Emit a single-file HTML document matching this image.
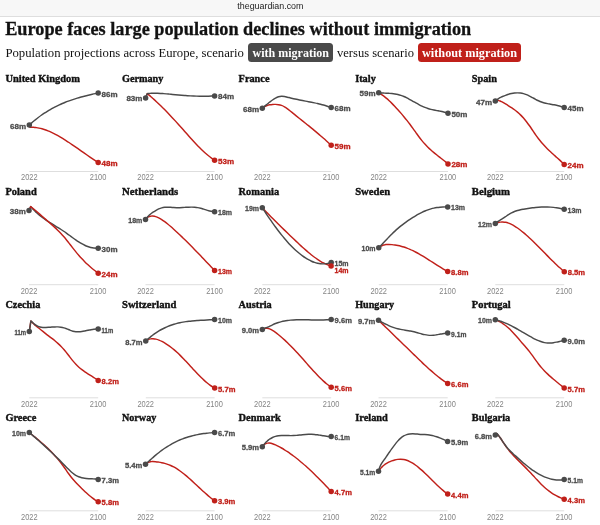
<!DOCTYPE html>
<html><head><meta charset="utf-8"><title>Europe population</title>
<style>
html,body{margin:0;padding:0;background:#fff;}
body{width:600px;height:525px;overflow:hidden;position:relative;font-family:"Liberation Sans",sans-serif;}
svg{position:absolute;left:0;top:0;display:block;will-change:transform;transform:translateZ(0)}
.pt{font-family:"Liberation Serif",serif;font-weight:700;font-size:10.8px;fill:#121212;stroke:#121212;stroke-width:0.4px}
.tk{font-family:"Liberation Sans",sans-serif;font-size:8.5px;fill:#858585}
.lb{font-family:"Liberation Sans",sans-serif;font-size:7.8px;font-weight:700;stroke-width:0.3px}
.lr{font-weight:700}
.h1{font-family:"Liberation Serif",serif;font-weight:700;font-size:18.5px;fill:#121212;stroke:#121212;stroke-width:0.3px}
.sub{font-family:"Liberation Serif",serif;font-size:12.6px;fill:#121212}
.pill{font-family:"Liberation Serif",serif;font-weight:700;font-size:12.4px;fill:#fff}
.url{font-family:"Liberation Sans",sans-serif;font-size:8.9px;fill:#1c1c1c}
</style></head><body>
<svg width="600" height="525" viewBox="0 0 600 525">
<rect x="0" y="0" width="600" height="16" fill="#f7f7f7"/>
<rect x="0" y="16" width="600" height="1" fill="#dedede"/>
<text class="url" x="270.4" y="8.8" text-anchor="middle">theguardian.com</text>
<text class="h1" x="5.2" y="34.5" textLength="466" lengthAdjust="spacingAndGlyphs">Europe faces large population declines without immigration</text>
<text class="sub" x="5.4" y="57" textLength="238.6" lengthAdjust="spacingAndGlyphs">Population projections across Europe, scenario</text>
<rect x="248" y="43" width="85" height="19" rx="3.5" fill="#4a4a4a"/>
<text class="pill" x="252.5" y="57" textLength="76.5" lengthAdjust="spacingAndGlyphs">with migration</text>
<text class="sub" x="337" y="57" textLength="77" lengthAdjust="spacingAndGlyphs">versus scenario</text>
<rect x="418" y="43" width="103" height="19" rx="3.5" fill="#c0201a"/>
<text class="pill" x="422" y="57" textLength="95" lengthAdjust="spacingAndGlyphs">without migration</text>
<text class="pt" x="5.4" y="82.0" textLength="74.5" lengthAdjust="spacingAndGlyphs">United Kingdom</text>
<line x1="29.3" y1="171.5" x2="98.2" y2="171.5" stroke="#dedede" stroke-width="1"/>
<text class="tk" x="21.0" y="180.3" textLength="16.6" lengthAdjust="spacingAndGlyphs">2022</text>
<text class="tk" x="89.8" y="180.3" textLength="16.6" lengthAdjust="spacingAndGlyphs">2100</text>
<path d="M29.30,125.00L30.00,127.25C30.20,127.25 30.80,127.23 31.20,127.24C31.60,127.24 32.00,127.25 32.40,127.26C32.80,127.28 33.20,127.30 33.60,127.33C34.00,127.36 34.40,127.39 34.80,127.43C35.20,127.47 35.30,127.46 36.00,127.57C36.70,127.68 38.00,127.88 39.00,128.09C40.00,128.30 41.00,128.54 42.00,128.82C43.00,129.10 44.00,129.41 45.00,129.75C46.00,130.09 47.00,130.46 48.00,130.86C49.00,131.26 50.00,131.69 51.00,132.14C52.00,132.60 53.00,133.08 54.00,133.58C55.00,134.08 56.00,134.61 57.00,135.15C58.00,135.69 59.00,136.26 60.00,136.84C61.00,137.43 62.00,138.03 63.00,138.64C64.00,139.26 65.00,139.89 66.00,140.53C67.00,141.18 68.00,141.83 69.00,142.50C70.00,143.17 71.00,143.84 72.00,144.53C73.00,145.21 74.00,145.90 75.00,146.60C76.00,147.29 77.00,147.99 78.00,148.70C79.00,149.40 80.00,150.10 81.00,150.81C82.00,151.51 83.00,152.22 84.00,152.92C85.00,153.62 86.00,154.32 87.00,155.01C88.00,155.70 89.00,156.39 90.00,157.07C91.00,157.75 92.00,158.42 93.00,159.08C94.00,159.74 95.13,160.47 96.00,161.02C96.87,161.58 97.83,162.17 98.20,162.40" fill="none" stroke="#c0201a" stroke-width="1.45" stroke-linecap="round" stroke-linejoin="round"/>
<path d="M29.30,125.00C29.50,124.82 30.10,124.27 30.50,123.91C30.90,123.55 31.30,123.20 31.70,122.85C32.10,122.50 32.50,122.15 32.90,121.81C33.30,121.47 33.70,121.13 34.10,120.80C34.50,120.47 34.60,120.37 35.30,119.82C36.00,119.26 37.30,118.22 38.30,117.47C39.30,116.71 40.30,115.98 41.30,115.27C42.30,114.56 43.30,113.87 44.30,113.21C45.30,112.55 46.30,111.91 47.30,111.30C48.30,110.68 49.30,110.08 50.30,109.51C51.30,108.93 52.30,108.38 53.30,107.85C54.30,107.31 55.30,106.80 56.30,106.30C57.30,105.80 58.30,105.32 59.30,104.86C60.30,104.40 61.30,103.96 62.30,103.53C63.30,103.10 64.30,102.69 65.30,102.29C66.30,101.89 67.30,101.51 68.30,101.14C69.30,100.77 70.30,100.41 71.30,100.07C72.30,99.73 73.30,99.40 74.30,99.08C75.30,98.76 76.30,98.45 77.30,98.15C78.30,97.85 79.30,97.56 80.30,97.28C81.30,97.00 82.30,96.74 83.30,96.47C84.30,96.21 85.30,95.96 86.30,95.71C87.30,95.46 88.30,95.22 89.30,94.98C90.30,94.75 91.30,94.52 92.30,94.29C93.30,94.06 94.32,93.84 95.30,93.63C96.28,93.41 97.72,93.10 98.20,93.00" fill="none" stroke="#4a4a4a" stroke-width="1.45" stroke-linecap="round" stroke-linejoin="round"/>
<circle cx="98.20" cy="162.40" r="2.75" fill="#c0201a"/>
<circle cx="98.20" cy="93.00" r="2.75" fill="#4a4a4a"/>
<circle cx="29.30" cy="125.00" r="2.75" fill="#4a4a4a"/>
<text class="lb" x="10.1" y="128.5" textLength="16.0" lengthAdjust="spacingAndGlyphs" fill="#4c4c4c" stroke="#4c4c4c">68m</text>
<text class="lb" x="101.6" y="96.5" textLength="16.0" lengthAdjust="spacingAndGlyphs" fill="#4c4c4c" stroke="#4c4c4c">86m</text>
<text class="lb lr" x="101.6" y="165.9" textLength="16.0" lengthAdjust="spacingAndGlyphs" fill="#c0201a" stroke="#c0201a">48m</text>
<text class="pt" x="122.0" y="82.0" textLength="41.4" lengthAdjust="spacingAndGlyphs">Germany</text>
<line x1="145.6" y1="171.5" x2="214.6" y2="171.5" stroke="#dedede" stroke-width="1"/>
<text class="tk" x="137.3" y="180.3" textLength="16.6" lengthAdjust="spacingAndGlyphs">2022</text>
<text class="tk" x="206.2" y="180.3" textLength="16.6" lengthAdjust="spacingAndGlyphs">2100</text>
<path d="M145.60,97.90L147.30,93.60C147.50,93.77 148.10,94.28 148.50,94.62C148.90,94.96 149.30,95.30 149.70,95.64C150.10,95.99 150.50,96.34 150.90,96.69C151.30,97.04 151.70,97.39 152.10,97.75C152.50,98.10 152.90,98.46 153.30,98.82C153.70,99.18 153.80,99.27 154.50,99.91C155.20,100.56 156.50,101.76 157.50,102.70C158.50,103.65 159.50,104.61 160.50,105.58C161.50,106.56 162.50,107.55 163.50,108.55C164.50,109.55 165.50,110.56 166.50,111.59C167.50,112.61 168.50,113.65 169.50,114.70C170.50,115.75 171.50,116.81 172.50,117.88C173.50,118.95 174.50,120.03 175.50,121.12C176.50,122.21 177.50,123.31 178.50,124.42C179.50,125.53 180.50,126.65 181.50,127.77C182.50,128.89 183.50,130.03 184.50,131.16C185.50,132.29 186.50,133.42 187.50,134.55C188.50,135.67 189.50,136.80 190.50,137.91C191.50,139.03 192.50,140.13 193.50,141.22C194.50,142.31 195.50,143.39 196.50,144.44C197.50,145.49 198.50,146.53 199.50,147.54C200.50,148.55 201.50,149.53 202.50,150.49C203.50,151.44 204.50,152.37 205.50,153.25C206.50,154.14 207.50,154.99 208.50,155.80C209.50,156.61 210.48,157.38 211.50,158.11C212.52,158.84 214.08,159.85 214.60,160.20" fill="none" stroke="#c0201a" stroke-width="1.45" stroke-linecap="round" stroke-linejoin="round"/>
<path d="M145.60,97.90L147.30,93.60C147.50,93.58 148.10,93.52 148.50,93.48C148.90,93.45 149.30,93.42 149.70,93.39C150.10,93.37 150.50,93.34 150.90,93.32C151.30,93.30 151.70,93.29 152.10,93.28C152.50,93.26 152.90,93.25 153.30,93.25C153.70,93.24 153.80,93.23 154.50,93.24C155.20,93.25 156.50,93.26 157.50,93.29C158.50,93.32 159.50,93.36 160.50,93.42C161.50,93.48 162.50,93.55 163.50,93.62C164.50,93.70 165.50,93.78 166.50,93.87C167.50,93.95 168.50,94.05 169.50,94.14C170.50,94.23 171.50,94.32 172.50,94.41C173.50,94.51 174.50,94.60 175.50,94.69C176.50,94.78 177.50,94.87 178.50,94.95C179.50,95.04 180.50,95.13 181.50,95.21C182.50,95.29 183.50,95.37 184.50,95.45C185.50,95.52 186.50,95.60 187.50,95.66C188.50,95.73 189.50,95.80 190.50,95.86C191.50,95.92 192.50,95.97 193.50,96.02C194.50,96.07 195.50,96.11 196.50,96.14C197.50,96.18 198.50,96.21 199.50,96.23C200.50,96.25 201.50,96.27 202.50,96.27C203.50,96.28 204.50,96.28 205.50,96.27C206.50,96.25 207.50,96.24 208.50,96.21C209.50,96.18 210.48,96.14 211.50,96.09C212.52,96.04 214.08,95.93 214.60,95.90" fill="none" stroke="#4a4a4a" stroke-width="1.45" stroke-linecap="round" stroke-linejoin="round"/>
<circle cx="214.60" cy="160.20" r="2.75" fill="#c0201a"/>
<circle cx="214.60" cy="95.90" r="2.75" fill="#4a4a4a"/>
<circle cx="145.60" cy="97.90" r="2.75" fill="#4a4a4a"/>
<text class="lb" x="126.4" y="101.4" textLength="16.0" lengthAdjust="spacingAndGlyphs" fill="#4c4c4c" stroke="#4c4c4c">83m</text>
<text class="lb" x="218.0" y="99.4" textLength="16.0" lengthAdjust="spacingAndGlyphs" fill="#4c4c4c" stroke="#4c4c4c">84m</text>
<text class="lb lr" x="218.0" y="163.7" textLength="16.0" lengthAdjust="spacingAndGlyphs" fill="#c0201a" stroke="#c0201a">53m</text>
<text class="pt" x="238.6" y="82.0" textLength="30.9" lengthAdjust="spacingAndGlyphs">France</text>
<line x1="262.3" y1="171.5" x2="331.2" y2="171.5" stroke="#dedede" stroke-width="1"/>
<text class="tk" x="254.0" y="180.3" textLength="16.6" lengthAdjust="spacingAndGlyphs">2022</text>
<text class="tk" x="322.8" y="180.3" textLength="16.6" lengthAdjust="spacingAndGlyphs">2100</text>
<path d="M262.30,108.20C262.50,108.05 263.10,107.58 263.50,107.31C263.90,107.04 264.30,106.80 264.70,106.57C265.10,106.35 265.50,106.15 265.90,105.97C266.30,105.79 266.70,105.63 267.10,105.48C267.50,105.34 267.90,105.22 268.30,105.11C268.70,105.00 268.80,104.93 269.50,104.82C270.20,104.71 271.50,104.52 272.50,104.45C273.50,104.37 274.50,104.35 275.50,104.39C276.50,104.43 277.50,104.50 278.50,104.67C279.50,104.84 280.50,105.07 281.50,105.42C282.50,105.77 283.50,106.22 284.50,106.78C285.50,107.34 286.50,108.06 287.50,108.80C288.50,109.53 289.50,110.38 290.50,111.20C291.50,112.01 292.50,112.85 293.50,113.66C294.50,114.48 295.50,115.28 296.50,116.08C297.50,116.88 298.50,117.67 299.50,118.46C300.50,119.25 301.50,120.04 302.50,120.84C303.50,121.63 304.50,122.43 305.50,123.23C306.50,124.03 307.50,124.83 308.50,125.65C309.50,126.46 310.50,127.27 311.50,128.09C312.50,128.92 313.50,129.74 314.50,130.58C315.50,131.41 316.50,132.26 317.50,133.11C318.50,133.96 319.50,134.81 320.50,135.68C321.50,136.54 322.50,137.42 323.50,138.30C324.50,139.18 325.50,140.08 326.50,140.98C327.50,141.88 328.72,143.00 329.50,143.72C330.28,144.44 330.92,145.04 331.20,145.30" fill="none" stroke="#c0201a" stroke-width="1.45" stroke-linecap="round" stroke-linejoin="round"/>
<path d="M262.30,108.20C262.50,108.03 263.10,107.51 263.50,107.18C263.90,106.84 264.30,106.50 264.70,106.17C265.10,105.84 265.50,105.51 265.90,105.18C266.30,104.85 266.70,104.52 267.10,104.19C267.50,103.87 267.90,103.54 268.30,103.22C268.70,102.90 268.80,102.80 269.50,102.27C270.20,101.74 271.50,100.73 272.50,100.03C273.50,99.34 274.50,98.67 275.50,98.12C276.50,97.57 277.50,97.06 278.50,96.74C279.50,96.41 280.50,96.22 281.50,96.17C282.50,96.12 283.50,96.28 284.50,96.45C285.50,96.62 286.50,96.93 287.50,97.18C288.50,97.43 289.50,97.71 290.50,97.96C291.50,98.20 292.50,98.44 293.50,98.67C294.50,98.89 295.50,99.11 296.50,99.32C297.50,99.54 298.50,99.74 299.50,99.94C300.50,100.14 301.50,100.34 302.50,100.53C303.50,100.72 304.50,100.91 305.50,101.10C306.50,101.30 307.50,101.48 308.50,101.68C309.50,101.87 310.50,102.06 311.50,102.26C312.50,102.46 313.50,102.66 314.50,102.87C315.50,103.08 316.50,103.29 317.50,103.52C318.50,103.75 319.50,103.98 320.50,104.24C321.50,104.49 322.50,104.75 323.50,105.03C324.50,105.32 325.50,105.61 326.50,105.94C327.50,106.26 328.72,106.68 329.50,106.96C330.28,107.24 330.92,107.49 331.20,107.60" fill="none" stroke="#4a4a4a" stroke-width="1.45" stroke-linecap="round" stroke-linejoin="round"/>
<circle cx="331.20" cy="145.30" r="2.75" fill="#c0201a"/>
<circle cx="331.20" cy="107.60" r="2.75" fill="#4a4a4a"/>
<circle cx="262.30" cy="108.20" r="2.75" fill="#4a4a4a"/>
<text class="lb" x="243.1" y="111.7" textLength="16.0" lengthAdjust="spacingAndGlyphs" fill="#4c4c4c" stroke="#4c4c4c">68m</text>
<text class="lb" x="334.6" y="111.1" textLength="16.0" lengthAdjust="spacingAndGlyphs" fill="#4c4c4c" stroke="#4c4c4c">68m</text>
<text class="lb lr" x="334.6" y="148.8" textLength="16.0" lengthAdjust="spacingAndGlyphs" fill="#c0201a" stroke="#c0201a">59m</text>
<text class="pt" x="355.2" y="82.0" textLength="20.6" lengthAdjust="spacingAndGlyphs">Italy</text>
<line x1="378.7" y1="171.5" x2="448.0" y2="171.5" stroke="#dedede" stroke-width="1"/>
<text class="tk" x="370.4" y="180.3" textLength="16.6" lengthAdjust="spacingAndGlyphs">2022</text>
<text class="tk" x="439.6" y="180.3" textLength="16.6" lengthAdjust="spacingAndGlyphs">2100</text>
<path d="M378.70,92.70C378.90,92.82 379.50,93.17 379.90,93.42C380.30,93.67 380.70,93.93 381.10,94.20C381.50,94.47 381.90,94.75 382.30,95.04C382.70,95.32 383.10,95.62 383.50,95.92C383.90,96.23 384.30,96.54 384.70,96.86C385.10,97.18 385.20,97.24 385.90,97.84C386.60,98.45 387.90,99.57 388.90,100.49C389.90,101.41 390.90,102.38 391.90,103.38C392.90,104.38 393.90,105.42 394.90,106.48C395.90,107.53 396.90,108.63 397.90,109.74C398.90,110.85 399.90,111.98 400.90,113.14C401.90,114.29 402.90,115.47 403.90,116.68C404.90,117.89 405.90,119.12 406.90,120.39C407.90,121.65 408.90,122.94 409.90,124.27C410.90,125.59 411.90,126.95 412.90,128.33C413.90,129.71 414.90,131.15 415.90,132.56C416.90,133.96 417.90,135.40 418.90,136.74C419.90,138.08 420.90,139.39 421.90,140.61C422.90,141.83 423.90,142.97 424.90,144.06C425.90,145.16 426.90,146.18 427.90,147.17C428.90,148.15 429.90,149.08 430.90,149.98C431.90,150.88 432.90,151.73 433.90,152.57C434.90,153.41 435.90,154.21 436.90,155.01C437.90,155.82 438.90,156.59 439.90,157.38C440.90,158.16 441.90,158.93 442.90,159.73C443.90,160.52 445.05,161.44 445.90,162.14C446.75,162.83 447.65,163.61 448.00,163.90" fill="none" stroke="#c0201a" stroke-width="1.45" stroke-linecap="round" stroke-linejoin="round"/>
<path d="M378.70,92.70C378.90,92.72 379.50,92.78 379.90,92.82C380.30,92.86 380.70,92.89 381.10,92.92C381.50,92.95 381.90,92.97 382.30,93.00C382.70,93.02 383.10,93.04 383.50,93.06C383.90,93.09 384.30,93.11 384.70,93.12C385.10,93.14 385.20,93.15 385.90,93.18C386.60,93.22 387.90,93.27 388.90,93.33C389.90,93.40 390.90,93.46 391.90,93.56C392.90,93.66 393.90,93.77 394.90,93.92C395.90,94.08 396.90,94.26 397.90,94.49C398.90,94.73 399.90,95.01 400.90,95.34C401.90,95.68 402.90,96.08 403.90,96.52C404.90,96.95 405.90,97.45 406.90,97.96C407.90,98.47 408.90,99.03 409.90,99.58C410.90,100.14 411.90,100.72 412.90,101.28C413.90,101.84 414.90,102.42 415.90,102.97C416.90,103.52 417.90,104.06 418.90,104.58C419.90,105.09 420.90,105.60 421.90,106.07C422.90,106.53 423.90,106.98 424.90,107.38C425.90,107.78 426.90,108.15 427.90,108.48C428.90,108.80 429.90,109.08 430.90,109.33C431.90,109.59 432.90,109.80 433.90,110.01C434.90,110.22 435.90,110.41 436.90,110.60C437.90,110.79 438.90,110.96 439.90,111.16C440.90,111.36 441.90,111.55 442.90,111.78C443.90,112.02 445.05,112.31 445.90,112.54C446.75,112.78 447.65,113.09 448.00,113.20" fill="none" stroke="#4a4a4a" stroke-width="1.45" stroke-linecap="round" stroke-linejoin="round"/>
<circle cx="448.00" cy="163.90" r="2.75" fill="#c0201a"/>
<circle cx="448.00" cy="113.20" r="2.75" fill="#4a4a4a"/>
<circle cx="378.70" cy="92.70" r="2.75" fill="#4a4a4a"/>
<text class="lb" x="359.5" y="96.2" textLength="16.0" lengthAdjust="spacingAndGlyphs" fill="#4c4c4c" stroke="#4c4c4c">59m</text>
<text class="lb" x="451.4" y="116.7" textLength="16.0" lengthAdjust="spacingAndGlyphs" fill="#4c4c4c" stroke="#4c4c4c">50m</text>
<text class="lb lr" x="451.4" y="167.4" textLength="16.0" lengthAdjust="spacingAndGlyphs" fill="#c0201a" stroke="#c0201a">28m</text>
<text class="pt" x="471.8" y="82.0" textLength="25.1" lengthAdjust="spacingAndGlyphs">Spain</text>
<line x1="495.3" y1="171.5" x2="564.2" y2="171.5" stroke="#dedede" stroke-width="1"/>
<text class="tk" x="487.0" y="180.3" textLength="16.6" lengthAdjust="spacingAndGlyphs">2022</text>
<text class="tk" x="555.8" y="180.3" textLength="16.6" lengthAdjust="spacingAndGlyphs">2100</text>
<path d="M495.30,101.00C495.50,100.90 496.10,100.49 496.50,100.38C496.90,100.26 497.30,100.27 497.70,100.30C498.10,100.34 498.50,100.46 498.90,100.58C499.30,100.70 499.70,100.86 500.10,101.03C500.50,101.19 500.90,101.37 501.30,101.56C501.70,101.76 501.80,101.78 502.50,102.18C503.20,102.57 504.50,103.33 505.50,103.93C506.50,104.53 507.50,105.15 508.50,105.78C509.50,106.41 510.50,107.03 511.50,107.70C512.50,108.37 513.50,109.04 514.50,109.78C515.50,110.52 516.50,111.29 517.50,112.14C518.50,112.98 519.50,113.87 520.50,114.86C521.50,115.84 522.50,116.91 523.50,118.05C524.50,119.18 525.50,120.41 526.50,121.69C527.50,122.98 528.50,124.35 529.50,125.77C530.50,127.19 531.50,128.72 532.50,130.21C533.50,131.69 534.50,133.25 535.50,134.68C536.50,136.12 537.50,137.50 538.50,138.81C539.50,140.11 540.50,141.33 541.50,142.50C542.50,143.67 543.50,144.77 544.50,145.84C545.50,146.90 546.50,147.91 547.50,148.90C548.50,149.89 549.50,150.83 550.50,151.76C551.50,152.69 552.50,153.59 553.50,154.49C554.50,155.40 555.50,156.28 556.50,157.18C557.50,158.08 558.50,158.98 559.50,159.90C560.50,160.82 561.72,161.97 562.50,162.72C563.28,163.47 563.92,164.12 564.20,164.40" fill="none" stroke="#c0201a" stroke-width="1.45" stroke-linecap="round" stroke-linejoin="round"/>
<path d="M495.30,101.00C495.50,100.83 496.10,100.29 496.50,99.98C496.90,99.66 497.30,99.37 497.70,99.09C498.10,98.81 498.50,98.56 498.90,98.32C499.30,98.08 499.70,97.86 500.10,97.65C500.50,97.43 500.90,97.24 501.30,97.05C501.70,96.86 501.80,96.80 502.50,96.51C503.20,96.22 504.50,95.68 505.50,95.31C506.50,94.95 507.50,94.61 508.50,94.32C509.50,94.03 510.50,93.77 511.50,93.56C512.50,93.35 513.50,93.18 514.50,93.07C515.50,92.95 516.50,92.88 517.50,92.88C518.50,92.88 519.50,92.93 520.50,93.05C521.50,93.18 522.50,93.37 523.50,93.63C524.50,93.90 525.50,94.26 526.50,94.66C527.50,95.06 528.50,95.55 529.50,96.05C530.50,96.54 531.50,97.10 532.50,97.64C533.50,98.18 534.50,98.75 535.50,99.27C536.50,99.80 537.50,100.32 538.50,100.78C539.50,101.24 540.50,101.65 541.50,102.01C542.50,102.37 543.50,102.66 544.50,102.93C545.50,103.20 546.50,103.41 547.50,103.62C548.50,103.83 549.50,104.00 550.50,104.18C551.50,104.36 552.50,104.51 553.50,104.69C554.50,104.87 555.50,105.04 556.50,105.25C557.50,105.46 558.50,105.67 559.50,105.94C560.50,106.20 561.72,106.59 562.50,106.85C563.28,107.11 563.92,107.39 564.20,107.50" fill="none" stroke="#4a4a4a" stroke-width="1.45" stroke-linecap="round" stroke-linejoin="round"/>
<circle cx="564.20" cy="164.40" r="2.75" fill="#c0201a"/>
<circle cx="564.20" cy="107.50" r="2.75" fill="#4a4a4a"/>
<circle cx="495.30" cy="101.00" r="2.75" fill="#4a4a4a"/>
<text class="lb" x="476.1" y="104.5" textLength="16.0" lengthAdjust="spacingAndGlyphs" fill="#4c4c4c" stroke="#4c4c4c">47m</text>
<text class="lb" x="567.6" y="111.0" textLength="16.0" lengthAdjust="spacingAndGlyphs" fill="#4c4c4c" stroke="#4c4c4c">45m</text>
<text class="lb lr" x="567.6" y="167.9" textLength="16.0" lengthAdjust="spacingAndGlyphs" fill="#c0201a" stroke="#c0201a">24m</text>
<text class="pt" x="5.4" y="195.2" textLength="31.3" lengthAdjust="spacingAndGlyphs">Poland</text>
<line x1="29.0" y1="284.7" x2="98.2" y2="284.7" stroke="#dedede" stroke-width="1"/>
<text class="tk" x="20.7" y="293.5" textLength="16.6" lengthAdjust="spacingAndGlyphs">2022</text>
<text class="tk" x="89.8" y="293.5" textLength="16.6" lengthAdjust="spacingAndGlyphs">2100</text>
<path d="M29.00,210.60L30.70,206.60C30.90,206.83 31.50,207.51 31.90,207.95C32.30,208.39 32.70,208.82 33.10,209.24C33.50,209.67 33.90,210.08 34.30,210.48C34.70,210.88 35.10,211.27 35.50,211.65C35.90,212.04 36.00,212.16 36.70,212.78C37.40,213.40 38.70,214.56 39.70,215.38C40.70,216.21 41.70,216.98 42.70,217.73C43.70,218.47 44.70,219.18 45.70,219.87C46.70,220.55 47.70,221.21 48.70,221.85C49.70,222.49 50.70,223.11 51.70,223.73C52.70,224.35 53.70,224.95 54.70,225.56C55.70,226.17 56.70,226.76 57.70,227.38C58.70,228.00 59.70,228.61 60.70,229.25C61.70,229.89 62.70,230.55 63.70,231.23C64.70,231.91 65.70,232.62 66.70,233.33C67.70,234.05 68.70,234.79 69.70,235.53C70.70,236.26 71.70,237.01 72.70,237.74C73.70,238.47 74.70,239.20 75.70,239.89C76.70,240.59 77.70,241.28 78.70,241.91C79.70,242.55 80.70,243.17 81.70,243.73C82.70,244.29 83.70,244.81 84.70,245.28C85.70,245.75 86.70,246.17 87.70,246.53C88.70,246.90 89.70,247.21 90.70,247.46C91.70,247.71 92.70,247.91 93.70,248.04C94.70,248.17 95.95,248.22 96.70,248.25C97.45,248.27 97.95,248.21 98.20,248.20" fill="none" stroke="#4a4a4a" stroke-width="1.45" stroke-linecap="round" stroke-linejoin="round"/>
<path d="M29.00,210.60L30.70,206.60C30.90,206.76 31.50,207.24 31.90,207.56C32.30,207.89 32.70,208.21 33.10,208.54C33.50,208.87 33.90,209.20 34.30,209.53C34.70,209.86 35.10,210.20 35.50,210.53C35.90,210.87 36.00,210.95 36.70,211.55C37.40,212.14 38.70,213.25 39.70,214.12C40.70,214.98 41.70,215.85 42.70,216.72C43.70,217.60 44.70,218.48 45.70,219.36C46.70,220.23 47.70,221.11 48.70,221.99C49.70,222.87 50.70,223.75 51.70,224.64C52.70,225.54 53.70,226.44 54.70,227.37C55.70,228.30 56.70,229.24 57.70,230.23C58.70,231.21 59.70,232.22 60.70,233.28C61.70,234.34 62.70,235.44 63.70,236.59C64.70,237.75 65.70,238.97 66.70,240.20C67.70,241.44 68.70,242.73 69.70,244.01C70.70,245.29 71.70,246.59 72.70,247.86C73.70,249.13 74.70,250.39 75.70,251.61C76.70,252.83 77.70,254.03 78.70,255.18C79.70,256.34 80.70,257.46 81.70,258.54C82.70,259.62 83.70,260.66 84.70,261.66C85.70,262.67 86.70,263.63 87.70,264.56C88.70,265.50 89.70,266.39 90.70,267.26C91.70,268.13 92.70,268.96 93.70,269.77C94.70,270.57 95.95,271.53 96.70,272.10C97.45,272.67 97.95,273.02 98.20,273.20" fill="none" stroke="#c0201a" stroke-width="1.45" stroke-linecap="round" stroke-linejoin="round"/>
<circle cx="98.20" cy="273.20" r="2.75" fill="#c0201a"/>
<circle cx="98.20" cy="248.20" r="2.75" fill="#4a4a4a"/>
<circle cx="29.00" cy="210.60" r="2.75" fill="#4a4a4a"/>
<text class="lb" x="9.8" y="214.1" textLength="16.0" lengthAdjust="spacingAndGlyphs" fill="#4c4c4c" stroke="#4c4c4c">38m</text>
<text class="lb" x="101.6" y="251.7" textLength="16.0" lengthAdjust="spacingAndGlyphs" fill="#4c4c4c" stroke="#4c4c4c">30m</text>
<text class="lb lr" x="101.6" y="276.7" textLength="16.0" lengthAdjust="spacingAndGlyphs" fill="#c0201a" stroke="#c0201a">24m</text>
<text class="pt" x="122.0" y="195.2" textLength="56.2" lengthAdjust="spacingAndGlyphs">Netherlands</text>
<line x1="145.5" y1="284.7" x2="214.6" y2="284.7" stroke="#dedede" stroke-width="1"/>
<text class="tk" x="137.2" y="293.5" textLength="16.6" lengthAdjust="spacingAndGlyphs">2022</text>
<text class="tk" x="206.2" y="293.5" textLength="16.6" lengthAdjust="spacingAndGlyphs">2100</text>
<path d="M145.50,219.50C145.70,219.26 146.30,218.46 146.70,218.05C147.10,217.65 147.50,217.35 147.90,217.09C148.30,216.83 148.70,216.65 149.10,216.50C149.50,216.35 149.90,216.26 150.30,216.18C150.70,216.10 151.10,216.06 151.50,216.04C151.90,216.01 152.00,215.94 152.70,216.04C153.40,216.14 154.70,216.33 155.70,216.63C156.70,216.94 157.70,217.37 158.70,217.86C159.70,218.35 160.70,218.93 161.70,219.56C162.70,220.19 163.70,220.90 164.70,221.64C165.70,222.38 166.70,223.19 167.70,224.01C168.70,224.83 169.70,225.70 170.70,226.58C171.70,227.45 172.70,228.35 173.70,229.25C174.70,230.16 175.70,231.08 176.70,232.00C177.70,232.93 178.70,233.87 179.70,234.81C180.70,235.76 181.70,236.72 182.70,237.68C183.70,238.65 184.70,239.62 185.70,240.60C186.70,241.59 187.70,242.58 188.70,243.57C189.70,244.57 190.70,245.58 191.70,246.59C192.70,247.60 193.70,248.62 194.70,249.65C195.70,250.67 196.70,251.70 197.70,252.74C198.70,253.78 199.70,254.82 200.70,255.86C201.70,256.91 202.70,257.96 203.70,259.01C204.70,260.06 205.70,261.12 206.70,262.18C207.70,263.24 208.70,264.30 209.70,265.37C210.70,266.43 211.88,267.70 212.70,268.57C213.52,269.44 214.28,270.26 214.60,270.60" fill="none" stroke="#c0201a" stroke-width="1.45" stroke-linecap="round" stroke-linejoin="round"/>
<path d="M145.50,219.50C145.70,219.23 146.30,218.41 146.70,217.91C147.10,217.41 147.50,216.96 147.90,216.52C148.30,216.09 148.70,215.69 149.10,215.31C149.50,214.93 149.90,214.58 150.30,214.24C150.70,213.91 151.10,213.59 151.50,213.29C151.90,212.99 152.00,212.90 152.70,212.43C153.40,211.97 154.70,211.10 155.70,210.52C156.70,209.93 157.70,209.38 158.70,208.93C159.70,208.48 160.70,208.10 161.70,207.83C162.70,207.56 163.70,207.41 164.70,207.30C165.70,207.20 166.70,207.19 167.70,207.20C168.70,207.20 169.70,207.28 170.70,207.34C171.70,207.40 172.70,207.51 173.70,207.57C174.70,207.63 175.70,207.68 176.70,207.70C177.70,207.71 178.70,207.69 179.70,207.66C180.70,207.63 181.70,207.57 182.70,207.51C183.70,207.46 184.70,207.39 185.70,207.33C186.70,207.28 187.70,207.21 188.70,207.18C189.70,207.15 190.70,207.12 191.70,207.14C192.70,207.15 193.70,207.18 194.70,207.26C195.70,207.35 196.70,207.46 197.70,207.64C198.70,207.81 199.70,208.05 200.70,208.31C201.70,208.56 202.70,208.88 203.70,209.18C204.70,209.48 205.70,209.81 206.70,210.11C207.70,210.40 208.70,210.71 209.70,210.96C210.70,211.20 211.88,211.44 212.70,211.58C213.52,211.72 214.28,211.76 214.60,211.80" fill="none" stroke="#4a4a4a" stroke-width="1.45" stroke-linecap="round" stroke-linejoin="round"/>
<circle cx="214.60" cy="270.60" r="2.75" fill="#c0201a"/>
<circle cx="214.60" cy="211.80" r="2.75" fill="#4a4a4a"/>
<circle cx="145.50" cy="219.50" r="2.75" fill="#4a4a4a"/>
<text class="lb" x="128.3" y="223.0" textLength="14.0" lengthAdjust="spacingAndGlyphs" fill="#4c4c4c" stroke="#4c4c4c">18m</text>
<text class="lb" x="218.0" y="215.3" textLength="14.0" lengthAdjust="spacingAndGlyphs" fill="#4c4c4c" stroke="#4c4c4c">18m</text>
<text class="lb lr" x="218.0" y="274.1" textLength="14.0" lengthAdjust="spacingAndGlyphs" fill="#c0201a" stroke="#c0201a">13m</text>
<text class="pt" x="238.6" y="195.2" textLength="40.5" lengthAdjust="spacingAndGlyphs">Romania</text>
<line x1="262.3" y1="284.7" x2="331.2" y2="284.7" stroke="#dedede" stroke-width="1"/>
<text class="tk" x="254.0" y="293.5" textLength="16.6" lengthAdjust="spacingAndGlyphs">2022</text>
<text class="tk" x="322.8" y="293.5" textLength="16.6" lengthAdjust="spacingAndGlyphs">2100</text>
<path d="M262.30,207.80C262.50,208.01 263.10,208.64 263.50,209.05C263.90,209.47 264.30,209.88 264.70,210.30C265.10,210.71 265.50,211.13 265.90,211.54C266.30,211.95 266.70,212.36 267.10,212.77C267.50,213.19 267.90,213.59 268.30,214.00C268.70,214.41 268.80,214.52 269.50,215.23C270.20,215.94 271.50,217.26 272.50,218.26C273.50,219.27 274.50,220.27 275.50,221.27C276.50,222.27 277.50,223.26 278.50,224.25C279.50,225.24 280.50,226.22 281.50,227.20C282.50,228.18 283.50,229.15 284.50,230.12C285.50,231.09 286.50,232.06 287.50,233.02C288.50,233.99 289.50,234.95 290.50,235.90C291.50,236.86 292.50,237.81 293.50,238.76C294.50,239.71 295.50,240.66 296.50,241.60C297.50,242.54 298.50,243.49 299.50,244.42C300.50,245.35 301.50,246.28 302.50,247.19C303.50,248.10 304.50,249.01 305.50,249.89C306.50,250.77 307.50,251.65 308.50,252.49C309.50,253.33 310.50,254.16 311.50,254.96C312.50,255.75 313.50,256.53 314.50,257.27C315.50,258.01 316.50,258.72 317.50,259.39C318.50,260.06 319.50,260.70 320.50,261.30C321.50,261.89 322.50,262.45 323.50,262.96C324.50,263.47 325.50,263.94 326.50,264.36C327.50,264.77 328.73,265.19 329.50,265.45C330.27,265.71 330.83,265.82 331.10,265.90" fill="none" stroke="#c0201a" stroke-width="1.45" stroke-linecap="round" stroke-linejoin="round"/>
<path d="M262.30,207.80C262.50,208.11 263.10,209.02 263.50,209.63C263.90,210.24 264.30,210.85 264.70,211.45C265.10,212.06 265.50,212.66 265.90,213.26C266.30,213.86 266.70,214.46 267.10,215.05C267.50,215.65 267.90,216.24 268.30,216.83C268.70,217.42 268.80,217.58 269.50,218.58C270.20,219.59 271.50,221.48 272.50,222.88C273.50,224.29 274.50,225.68 275.50,227.03C276.50,228.39 277.50,229.72 278.50,231.02C279.50,232.32 280.50,233.60 281.50,234.84C282.50,236.08 283.50,237.29 284.50,238.47C285.50,239.65 286.50,240.80 287.50,241.91C288.50,243.03 289.50,244.11 290.50,245.15C291.50,246.20 292.50,247.21 293.50,248.18C294.50,249.15 295.50,250.09 296.50,250.98C297.50,251.88 298.50,252.74 299.50,253.56C300.50,254.37 301.50,255.15 302.50,255.88C303.50,256.61 304.50,257.31 305.50,257.95C306.50,258.59 307.50,259.19 308.50,259.73C309.50,260.28 310.50,260.78 311.50,261.22C312.50,261.67 313.50,262.06 314.50,262.40C315.50,262.74 316.50,263.02 317.50,263.25C318.50,263.47 319.50,263.64 320.50,263.74C321.50,263.85 322.50,263.89 323.50,263.87C324.50,263.85 325.50,263.77 326.50,263.62C327.50,263.46 328.72,263.16 329.50,262.96C330.28,262.76 330.92,262.49 331.20,262.40" fill="none" stroke="#4a4a4a" stroke-width="1.45" stroke-linecap="round" stroke-linejoin="round"/>
<circle cx="331.20" cy="262.40" r="2.75" fill="#4a4a4a"/>
<circle cx="331.10" cy="265.90" r="2.75" fill="#c0201a"/>
<circle cx="262.30" cy="207.80" r="2.75" fill="#4a4a4a"/>
<text class="lb" x="245.1" y="211.3" textLength="14.0" lengthAdjust="spacingAndGlyphs" fill="#4c4c4c" stroke="#4c4c4c">19m</text>
<text class="lb" x="334.6" y="266.4" textLength="14.0" lengthAdjust="spacingAndGlyphs" fill="#4c4c4c" stroke="#4c4c4c">15m</text>
<text class="lb lr" x="334.5" y="272.8" textLength="14.0" lengthAdjust="spacingAndGlyphs" fill="#c0201a" stroke="#c0201a">14m</text>
<text class="pt" x="355.2" y="195.2" textLength="35.0" lengthAdjust="spacingAndGlyphs">Sweden</text>
<line x1="378.8" y1="284.7" x2="447.7" y2="284.7" stroke="#dedede" stroke-width="1"/>
<text class="tk" x="370.4" y="293.5" textLength="16.6" lengthAdjust="spacingAndGlyphs">2022</text>
<text class="tk" x="439.3" y="293.5" textLength="16.6" lengthAdjust="spacingAndGlyphs">2100</text>
<path d="M378.75,247.70C378.95,247.55 379.55,247.06 379.95,246.78C380.35,246.51 380.75,246.27 381.15,246.05C381.55,245.83 381.95,245.64 382.35,245.48C382.75,245.31 383.15,245.17 383.55,245.05C383.95,244.93 384.35,244.84 384.75,244.76C385.15,244.67 385.25,244.62 385.95,244.57C386.65,244.52 387.95,244.44 388.95,244.46C389.95,244.47 390.95,244.55 391.95,244.64C392.95,244.73 393.95,244.85 394.95,244.99C395.95,245.13 396.95,245.30 397.95,245.50C398.95,245.70 399.95,245.92 400.95,246.18C401.95,246.44 402.95,246.72 403.95,247.04C404.95,247.36 405.95,247.71 406.95,248.09C407.95,248.48 408.95,248.89 409.95,249.33C410.95,249.77 411.95,250.24 412.95,250.72C413.95,251.21 414.95,251.73 415.95,252.26C416.95,252.79 417.95,253.34 418.95,253.91C419.95,254.48 420.95,255.06 421.95,255.66C422.95,256.25 423.95,256.86 424.95,257.48C425.95,258.10 426.95,258.72 427.95,259.35C428.95,259.99 429.95,260.62 430.95,261.26C431.95,261.90 432.95,262.54 433.95,263.18C434.95,263.82 435.95,264.46 436.95,265.09C437.95,265.72 438.95,266.34 439.95,266.96C440.95,267.58 441.95,268.19 442.95,268.78C443.95,269.38 445.16,270.07 445.95,270.53C446.74,270.98 447.41,271.34 447.70,271.50" fill="none" stroke="#c0201a" stroke-width="1.45" stroke-linecap="round" stroke-linejoin="round"/>
<path d="M378.75,247.70C378.95,247.50 379.55,246.89 379.95,246.48C380.35,246.07 380.75,245.66 381.15,245.24C381.55,244.83 381.95,244.41 382.35,243.99C382.75,243.57 383.15,243.15 383.55,242.73C383.95,242.31 384.35,241.88 384.75,241.46C385.15,241.04 385.25,240.93 385.95,240.19C386.65,239.46 387.95,238.08 388.95,237.05C389.95,236.01 390.95,234.98 391.95,233.99C392.95,233.00 393.95,232.03 394.95,231.10C395.95,230.17 396.95,229.27 397.95,228.41C398.95,227.54 399.95,226.71 400.95,225.91C401.95,225.10 402.95,224.33 403.95,223.58C404.95,222.83 405.95,222.11 406.95,221.40C407.95,220.70 408.95,220.03 409.95,219.37C410.95,218.71 411.95,218.07 412.95,217.45C413.95,216.83 414.95,216.23 415.95,215.65C416.95,215.06 417.95,214.50 418.95,213.96C419.95,213.42 420.95,212.90 421.95,212.41C422.95,211.93 423.95,211.46 424.95,211.03C425.95,210.60 426.95,210.20 427.95,209.84C428.95,209.47 429.95,209.14 430.95,208.85C431.95,208.56 432.95,208.31 433.95,208.09C434.95,207.87 435.95,207.70 436.95,207.54C437.95,207.39 438.95,207.27 439.95,207.18C440.95,207.08 441.95,207.02 442.95,206.97C443.95,206.92 445.16,206.90 445.95,206.89C446.74,206.88 447.41,206.90 447.70,206.90" fill="none" stroke="#4a4a4a" stroke-width="1.45" stroke-linecap="round" stroke-linejoin="round"/>
<circle cx="447.70" cy="271.50" r="2.75" fill="#c0201a"/>
<circle cx="447.70" cy="206.90" r="2.75" fill="#4a4a4a"/>
<circle cx="378.75" cy="247.70" r="2.75" fill="#4a4a4a"/>
<text class="lb" x="361.5" y="251.2" textLength="14.0" lengthAdjust="spacingAndGlyphs" fill="#4c4c4c" stroke="#4c4c4c">10m</text>
<text class="lb" x="451.1" y="210.4" textLength="14.0" lengthAdjust="spacingAndGlyphs" fill="#4c4c4c" stroke="#4c4c4c">13m</text>
<text class="lb lr" x="451.1" y="275.0" textLength="17.3" lengthAdjust="spacingAndGlyphs" fill="#c0201a" stroke="#c0201a">8.8m</text>
<text class="pt" x="471.8" y="195.2" textLength="38.2" lengthAdjust="spacingAndGlyphs">Belgium</text>
<line x1="495.3" y1="284.7" x2="564.2" y2="284.7" stroke="#dedede" stroke-width="1"/>
<text class="tk" x="487.0" y="293.5" textLength="16.6" lengthAdjust="spacingAndGlyphs">2022</text>
<text class="tk" x="555.8" y="293.5" textLength="16.6" lengthAdjust="spacingAndGlyphs">2100</text>
<path d="M495.30,223.60C495.50,223.51 496.10,223.22 496.50,223.06C496.90,222.91 497.30,222.77 497.70,222.65C498.10,222.52 498.50,222.42 498.90,222.33C499.30,222.25 499.70,222.17 500.10,222.12C500.50,222.07 500.90,222.03 501.30,222.01C501.70,221.98 501.80,221.93 502.50,221.99C503.20,222.04 504.50,222.12 505.50,222.32C506.50,222.51 507.50,222.80 508.50,223.15C509.50,223.50 510.50,223.93 511.50,224.42C512.50,224.91 513.50,225.46 514.50,226.07C515.50,226.67 516.50,227.33 517.50,228.03C518.50,228.73 519.50,229.48 520.50,230.25C521.50,231.02 522.50,231.83 523.50,232.67C524.50,233.50 525.50,234.36 526.50,235.25C527.50,236.13 528.50,237.04 529.50,237.97C530.50,238.90 531.50,239.85 532.50,240.81C533.50,241.77 534.50,242.75 535.50,243.73C536.50,244.72 537.50,245.72 538.50,246.73C539.50,247.73 540.50,248.75 541.50,249.76C542.50,250.78 543.50,251.80 544.50,252.82C545.50,253.84 546.50,254.86 547.50,255.87C548.50,256.88 549.50,257.89 550.50,258.89C551.50,259.89 552.50,260.88 553.50,261.85C554.50,262.83 555.50,263.79 556.50,264.74C557.50,265.68 558.50,266.62 559.50,267.52C560.50,268.43 561.70,269.48 562.50,270.18C563.30,270.87 564.00,271.45 564.30,271.70" fill="none" stroke="#c0201a" stroke-width="1.45" stroke-linecap="round" stroke-linejoin="round"/>
<path d="M495.30,223.60C495.50,223.43 496.10,222.89 496.50,222.57C496.90,222.25 497.30,221.96 497.70,221.68C498.10,221.40 498.50,221.15 498.90,220.89C499.30,220.64 499.70,220.40 500.10,220.15C500.50,219.91 500.90,219.67 501.30,219.42C501.70,219.18 501.80,219.14 502.50,218.68C503.20,218.22 504.50,217.35 505.50,216.68C506.50,216.00 507.50,215.27 508.50,214.64C509.50,214.01 510.50,213.41 511.50,212.90C512.50,212.38 513.50,211.94 514.50,211.55C515.50,211.16 516.50,210.84 517.50,210.54C518.50,210.25 519.50,210.01 520.50,209.78C521.50,209.55 522.50,209.37 523.50,209.18C524.50,209.00 525.50,208.83 526.50,208.67C527.50,208.50 528.50,208.35 529.50,208.21C530.50,208.06 531.50,207.93 532.50,207.81C533.50,207.68 534.50,207.57 535.50,207.47C536.50,207.38 537.50,207.29 538.50,207.22C539.50,207.15 540.50,207.09 541.50,207.05C542.50,207.01 543.50,206.98 544.50,206.97C545.50,206.96 546.50,206.96 547.50,206.99C548.50,207.02 549.50,207.06 550.50,207.12C551.50,207.18 552.50,207.26 553.50,207.36C554.50,207.47 555.50,207.59 556.50,207.73C557.50,207.88 558.50,208.04 559.50,208.23C560.50,208.42 561.72,208.70 562.50,208.87C563.28,209.05 563.92,209.23 564.20,209.30" fill="none" stroke="#4a4a4a" stroke-width="1.45" stroke-linecap="round" stroke-linejoin="round"/>
<circle cx="564.30" cy="271.70" r="2.75" fill="#c0201a"/>
<circle cx="564.20" cy="209.30" r="2.75" fill="#4a4a4a"/>
<circle cx="495.30" cy="223.60" r="2.75" fill="#4a4a4a"/>
<text class="lb" x="478.1" y="227.1" textLength="14.0" lengthAdjust="spacingAndGlyphs" fill="#4c4c4c" stroke="#4c4c4c">12m</text>
<text class="lb" x="567.6" y="212.8" textLength="14.0" lengthAdjust="spacingAndGlyphs" fill="#4c4c4c" stroke="#4c4c4c">13m</text>
<text class="lb lr" x="567.7" y="275.2" textLength="17.3" lengthAdjust="spacingAndGlyphs" fill="#c0201a" stroke="#c0201a">8.5m</text>
<text class="pt" x="5.4" y="308.3" textLength="35.0" lengthAdjust="spacingAndGlyphs">Czechia</text>
<line x1="29.3" y1="397.8" x2="98.2" y2="397.8" stroke="#dedede" stroke-width="1"/>
<text class="tk" x="21.0" y="406.6" textLength="16.6" lengthAdjust="spacingAndGlyphs">2022</text>
<text class="tk" x="89.8" y="406.6" textLength="16.6" lengthAdjust="spacingAndGlyphs">2100</text>
<path d="M29.30,331.60L30.90,320.90C31.10,321.13 31.70,321.84 32.10,322.28C32.50,322.71 32.90,323.12 33.30,323.51C33.70,323.90 34.10,324.27 34.50,324.63C34.90,324.99 35.30,325.33 35.70,325.67C36.10,326.00 36.20,326.09 36.90,326.65C37.60,327.22 38.90,328.24 39.90,329.04C40.90,329.83 41.90,330.63 42.90,331.42C43.90,332.22 44.90,333.02 45.90,333.81C46.90,334.60 47.90,335.37 48.90,336.14C49.90,336.91 50.90,337.65 51.90,338.43C52.90,339.20 53.90,339.97 54.90,340.79C55.90,341.61 56.90,342.44 57.90,343.34C58.90,344.24 59.90,345.17 60.90,346.19C61.90,347.22 62.90,348.31 63.90,349.47C64.90,350.64 65.90,351.93 66.90,353.20C67.90,354.47 68.90,355.82 69.90,357.10C70.90,358.39 71.90,359.70 72.90,360.89C73.90,362.09 74.90,363.22 75.90,364.27C76.90,365.32 77.90,366.28 78.90,367.18C79.90,368.08 80.90,368.91 81.90,369.69C82.90,370.47 83.90,371.19 84.90,371.88C85.90,372.57 86.90,373.21 87.90,373.85C88.90,374.49 89.90,375.10 90.90,375.71C91.90,376.33 92.90,376.93 93.90,377.56C94.90,378.20 96.18,379.03 96.90,379.50C97.62,379.98 97.98,380.25 98.20,380.40" fill="none" stroke="#c0201a" stroke-width="1.45" stroke-linecap="round" stroke-linejoin="round"/>
<path d="M29.30,331.60L30.90,320.90C31.10,321.10 31.70,321.71 32.10,322.09C32.50,322.47 32.90,322.84 33.30,323.18C33.70,323.52 34.10,323.84 34.50,324.15C34.90,324.45 35.30,324.73 35.70,325.00C36.10,325.26 36.20,325.40 36.90,325.72C37.60,326.05 38.90,326.69 39.90,326.97C40.90,327.26 41.90,327.35 42.90,327.44C43.90,327.52 44.90,327.49 45.90,327.46C46.90,327.44 47.90,327.37 48.90,327.31C49.90,327.24 50.90,327.15 51.90,327.08C52.90,327.01 53.90,326.94 54.90,326.91C55.90,326.87 56.90,326.85 57.90,326.90C58.90,326.94 59.90,327.01 60.90,327.17C61.90,327.33 62.90,327.55 63.90,327.84C64.90,328.13 65.90,328.54 66.90,328.93C67.90,329.31 68.90,329.77 69.90,330.15C70.90,330.52 71.90,330.92 72.90,331.18C73.90,331.45 74.90,331.64 75.90,331.74C76.90,331.84 77.90,331.83 78.90,331.79C79.90,331.75 80.90,331.62 81.90,331.48C82.90,331.34 83.90,331.14 84.90,330.95C85.90,330.75 86.90,330.52 87.90,330.31C88.90,330.11 89.90,329.88 90.90,329.70C91.90,329.52 92.90,329.34 93.90,329.22C94.90,329.10 96.18,329.03 96.90,328.99C97.62,328.95 97.98,329.00 98.20,329.00" fill="none" stroke="#4a4a4a" stroke-width="1.45" stroke-linecap="round" stroke-linejoin="round"/>
<circle cx="98.20" cy="380.40" r="2.75" fill="#c0201a"/>
<circle cx="98.20" cy="329.00" r="2.75" fill="#4a4a4a"/>
<circle cx="29.30" cy="331.60" r="2.75" fill="#4a4a4a"/>
<text class="lb" x="14.5" y="335.1" textLength="11.6" lengthAdjust="spacingAndGlyphs" fill="#4c4c4c" stroke="#4c4c4c">11m</text>
<text class="lb" x="101.6" y="332.5" textLength="11.6" lengthAdjust="spacingAndGlyphs" fill="#4c4c4c" stroke="#4c4c4c">11m</text>
<text class="lb lr" x="101.6" y="383.9" textLength="17.3" lengthAdjust="spacingAndGlyphs" fill="#c0201a" stroke="#c0201a">8.2m</text>
<text class="pt" x="122.0" y="308.3" textLength="54.4" lengthAdjust="spacingAndGlyphs">Switzerland</text>
<line x1="145.8" y1="397.8" x2="214.6" y2="397.8" stroke="#dedede" stroke-width="1"/>
<text class="tk" x="137.4" y="406.6" textLength="16.6" lengthAdjust="spacingAndGlyphs">2022</text>
<text class="tk" x="206.2" y="406.6" textLength="16.6" lengthAdjust="spacingAndGlyphs">2100</text>
<path d="M145.75,341.00C145.95,340.87 146.55,340.46 146.95,340.23C147.35,340.00 147.75,339.80 148.15,339.63C148.55,339.45 148.95,339.31 149.35,339.18C149.75,339.06 150.15,338.96 150.55,338.89C150.95,338.81 151.35,338.76 151.75,338.73C152.15,338.70 152.25,338.63 152.95,338.70C153.65,338.76 154.95,338.88 155.95,339.11C156.95,339.34 157.95,339.69 158.95,340.08C159.95,340.48 160.95,340.95 161.95,341.46C162.95,341.97 163.95,342.53 164.95,343.13C165.95,343.73 166.95,344.38 167.95,345.06C168.95,345.75 169.95,346.48 170.95,347.25C171.95,348.02 172.95,348.82 173.95,349.67C174.95,350.51 175.95,351.39 176.95,352.30C177.95,353.22 178.95,354.17 179.95,355.14C180.95,356.12 181.95,357.13 182.95,358.16C183.95,359.19 184.95,360.26 185.95,361.32C186.95,362.39 187.95,363.48 188.95,364.57C189.95,365.66 190.95,366.76 191.95,367.85C192.95,368.93 193.95,370.03 194.95,371.10C195.95,372.17 196.95,373.23 197.95,374.27C198.95,375.30 199.95,376.33 200.95,377.31C201.95,378.29 202.95,379.25 203.95,380.16C204.95,381.07 205.95,381.95 206.95,382.77C207.95,383.59 208.95,384.37 209.95,385.08C210.95,385.79 212.16,386.55 212.95,387.04C213.74,387.53 214.41,387.84 214.70,388.00" fill="none" stroke="#c0201a" stroke-width="1.45" stroke-linecap="round" stroke-linejoin="round"/>
<path d="M145.75,341.00C145.95,340.82 146.55,340.27 146.95,339.91C147.35,339.55 147.75,339.20 148.15,338.85C148.55,338.51 148.95,338.17 149.35,337.83C149.75,337.50 150.15,337.17 150.55,336.85C150.95,336.53 151.35,336.22 151.75,335.91C152.15,335.60 152.25,335.50 152.95,335.00C153.65,334.49 154.95,333.54 155.95,332.87C156.95,332.20 157.95,331.56 158.95,330.95C159.95,330.35 160.95,329.78 161.95,329.24C162.95,328.70 163.95,328.19 164.95,327.72C165.95,327.24 166.95,326.80 167.95,326.38C168.95,325.97 169.95,325.58 170.95,325.22C171.95,324.86 172.95,324.53 173.95,324.23C174.95,323.93 175.95,323.65 176.95,323.39C177.95,323.14 178.95,322.91 179.95,322.69C180.95,322.48 181.95,322.29 182.95,322.12C183.95,321.95 184.95,321.79 185.95,321.65C186.95,321.51 187.95,321.39 188.95,321.27C189.95,321.16 190.95,321.06 191.95,320.97C192.95,320.87 193.95,320.79 194.95,320.72C195.95,320.64 196.95,320.58 197.95,320.51C198.95,320.45 199.95,320.39 200.95,320.34C201.95,320.28 202.95,320.22 203.95,320.17C204.95,320.11 205.95,320.05 206.95,319.99C207.95,319.93 208.95,319.86 209.95,319.79C210.95,319.72 212.17,319.62 212.95,319.55C213.72,319.49 214.32,319.43 214.60,319.40" fill="none" stroke="#4a4a4a" stroke-width="1.45" stroke-linecap="round" stroke-linejoin="round"/>
<circle cx="214.70" cy="388.00" r="2.75" fill="#c0201a"/>
<circle cx="214.60" cy="319.40" r="2.75" fill="#4a4a4a"/>
<circle cx="145.75" cy="341.00" r="2.75" fill="#4a4a4a"/>
<text class="lb" x="125.2" y="344.5" textLength="17.3" lengthAdjust="spacingAndGlyphs" fill="#4c4c4c" stroke="#4c4c4c">8.7m</text>
<text class="lb" x="218.0" y="322.9" textLength="14.0" lengthAdjust="spacingAndGlyphs" fill="#4c4c4c" stroke="#4c4c4c">10m</text>
<text class="lb lr" x="218.1" y="391.5" textLength="17.3" lengthAdjust="spacingAndGlyphs" fill="#c0201a" stroke="#c0201a">5.7m</text>
<text class="pt" x="238.6" y="308.3" textLength="33.1" lengthAdjust="spacingAndGlyphs">Austria</text>
<line x1="262.3" y1="397.8" x2="331.2" y2="397.8" stroke="#dedede" stroke-width="1"/>
<text class="tk" x="254.0" y="406.6" textLength="16.6" lengthAdjust="spacingAndGlyphs">2022</text>
<text class="tk" x="322.8" y="406.6" textLength="16.6" lengthAdjust="spacingAndGlyphs">2100</text>
<path d="M262.30,329.60C262.50,329.48 263.10,329.07 263.50,328.88C263.90,328.68 264.30,328.54 264.70,328.44C265.10,328.33 265.50,328.27 265.90,328.25C266.30,328.22 266.70,328.24 267.10,328.28C267.50,328.32 267.90,328.40 268.30,328.50C268.70,328.60 268.80,328.57 269.50,328.88C270.20,329.20 271.50,329.79 272.50,330.38C273.50,330.97 274.50,331.69 275.50,332.42C276.50,333.15 277.50,333.95 278.50,334.76C279.50,335.57 280.50,336.40 281.50,337.26C282.50,338.12 283.50,339.01 284.50,339.91C285.50,340.82 286.50,341.75 287.50,342.71C288.50,343.66 289.50,344.64 290.50,345.64C291.50,346.64 292.50,347.66 293.50,348.70C294.50,349.74 295.50,350.81 296.50,351.89C297.50,352.97 298.50,354.08 299.50,355.19C300.50,356.31 301.50,357.44 302.50,358.57C303.50,359.71 304.50,360.85 305.50,361.99C306.50,363.13 307.50,364.28 308.50,365.41C309.50,366.55 310.50,367.68 311.50,368.79C312.50,369.91 313.50,371.01 314.50,372.09C315.50,373.18 316.50,374.24 317.50,375.28C318.50,376.31 319.50,377.33 320.50,378.30C321.50,379.28 322.50,380.23 323.50,381.13C324.50,382.03 325.50,382.90 326.50,383.72C327.50,384.53 328.72,385.45 329.50,386.03C330.28,386.61 330.92,387.00 331.20,387.20" fill="none" stroke="#c0201a" stroke-width="1.45" stroke-linecap="round" stroke-linejoin="round"/>
<path d="M262.30,329.60C262.50,329.43 263.10,328.86 263.50,328.61C263.90,328.35 264.30,328.22 264.70,328.07C265.10,327.93 265.50,327.86 265.90,327.74C266.30,327.62 266.70,327.51 267.10,327.37C267.50,327.22 267.90,327.06 268.30,326.89C268.70,326.72 268.80,326.69 269.50,326.35C270.20,326.01 271.50,325.33 272.50,324.86C273.50,324.38 274.50,323.91 275.50,323.51C276.50,323.10 277.50,322.75 278.50,322.44C279.50,322.12 280.50,321.85 281.50,321.61C282.50,321.36 283.50,321.16 284.50,320.97C285.50,320.78 286.50,320.63 287.50,320.49C288.50,320.35 289.50,320.24 290.50,320.14C291.50,320.04 292.50,319.97 293.50,319.91C294.50,319.85 295.50,319.80 296.50,319.77C297.50,319.74 298.50,319.72 299.50,319.71C300.50,319.71 301.50,319.71 302.50,319.72C303.50,319.73 304.50,319.75 305.50,319.77C306.50,319.79 307.50,319.82 308.50,319.84C309.50,319.87 310.50,319.90 311.50,319.92C312.50,319.95 313.50,319.98 314.50,320.00C315.50,320.02 316.50,320.03 317.50,320.04C318.50,320.05 319.50,320.05 320.50,320.04C321.50,320.03 322.50,320.01 323.50,319.98C324.50,319.94 325.50,319.90 326.50,319.83C327.50,319.77 328.72,319.66 329.50,319.59C330.28,319.52 330.92,319.43 331.20,319.40" fill="none" stroke="#4a4a4a" stroke-width="1.45" stroke-linecap="round" stroke-linejoin="round"/>
<circle cx="331.20" cy="387.20" r="2.75" fill="#c0201a"/>
<circle cx="331.20" cy="319.40" r="2.75" fill="#4a4a4a"/>
<circle cx="262.30" cy="329.60" r="2.75" fill="#4a4a4a"/>
<text class="lb" x="241.8" y="333.1" textLength="17.3" lengthAdjust="spacingAndGlyphs" fill="#4c4c4c" stroke="#4c4c4c">9.0m</text>
<text class="lb" x="334.6" y="322.9" textLength="17.3" lengthAdjust="spacingAndGlyphs" fill="#4c4c4c" stroke="#4c4c4c">9.6m</text>
<text class="lb lr" x="334.6" y="390.7" textLength="17.3" lengthAdjust="spacingAndGlyphs" fill="#c0201a" stroke="#c0201a">5.6m</text>
<text class="pt" x="355.2" y="308.3" textLength="38.9" lengthAdjust="spacingAndGlyphs">Hungary</text>
<line x1="378.5" y1="397.8" x2="447.7" y2="397.8" stroke="#dedede" stroke-width="1"/>
<text class="tk" x="370.2" y="406.6" textLength="16.6" lengthAdjust="spacingAndGlyphs">2022</text>
<text class="tk" x="439.3" y="406.6" textLength="16.6" lengthAdjust="spacingAndGlyphs">2100</text>
<path d="M378.50,320.30C378.70,320.49 379.30,321.05 379.70,321.43C380.10,321.81 380.50,322.19 380.90,322.58C381.30,322.96 381.70,323.34 382.10,323.72C382.50,324.11 382.90,324.49 383.30,324.87C383.70,325.26 384.10,325.64 384.50,326.03C384.90,326.42 385.00,326.51 385.70,327.19C386.40,327.87 387.70,329.13 388.70,330.10C389.70,331.07 390.70,332.05 391.70,333.02C392.70,333.99 393.70,334.97 394.70,335.94C395.70,336.91 396.70,337.89 397.70,338.86C398.70,339.83 399.70,340.80 400.70,341.77C401.70,342.75 402.70,343.72 403.70,344.69C404.70,345.66 405.70,346.63 406.70,347.60C407.70,348.57 408.70,349.54 409.70,350.51C410.70,351.48 411.70,352.45 412.70,353.42C413.70,354.39 414.70,355.36 415.70,356.33C416.70,357.30 417.70,358.27 418.70,359.23C419.70,360.19 420.70,361.15 421.70,362.10C422.70,363.05 423.70,364.00 424.70,364.93C425.70,365.86 426.70,366.79 427.70,367.70C428.70,368.61 429.70,369.51 430.70,370.39C431.70,371.28 432.70,372.15 433.70,373.00C434.70,373.85 435.70,374.68 436.70,375.50C437.70,376.31 438.70,377.10 439.70,377.87C440.70,378.64 441.70,379.39 442.70,380.11C443.70,380.84 444.87,381.64 445.70,382.20C446.53,382.77 447.37,383.28 447.70,383.50" fill="none" stroke="#c0201a" stroke-width="1.45" stroke-linecap="round" stroke-linejoin="round"/>
<path d="M378.50,320.30C378.70,320.41 379.30,320.76 379.70,320.99C380.10,321.21 380.50,321.44 380.90,321.66C381.30,321.88 381.70,322.10 382.10,322.32C382.50,322.54 382.90,322.75 383.30,322.96C383.70,323.17 384.10,323.38 384.50,323.59C384.90,323.79 385.00,323.86 385.70,324.19C386.40,324.53 387.70,325.16 388.70,325.60C389.70,326.04 390.70,326.46 391.70,326.83C392.70,327.21 393.70,327.55 394.70,327.86C395.70,328.17 396.70,328.44 397.70,328.68C398.70,328.93 399.70,329.14 400.70,329.35C401.70,329.55 402.70,329.73 403.70,329.91C404.70,330.09 405.70,330.25 406.70,330.43C407.70,330.60 408.70,330.77 409.70,330.96C410.70,331.16 411.70,331.35 412.70,331.58C413.70,331.80 414.70,332.05 415.70,332.31C416.70,332.57 417.70,332.86 418.70,333.13C419.70,333.40 420.70,333.69 421.70,333.94C422.70,334.19 423.70,334.44 424.70,334.64C425.70,334.84 426.70,335.02 427.70,335.14C428.70,335.26 429.70,335.35 430.70,335.36C431.70,335.37 432.70,335.31 433.70,335.21C434.70,335.12 435.70,334.95 436.70,334.79C437.70,334.63 438.70,334.42 439.70,334.23C440.70,334.04 441.70,333.83 442.70,333.67C443.70,333.50 444.87,333.34 445.70,333.24C446.53,333.15 447.37,333.12 447.70,333.10" fill="none" stroke="#4a4a4a" stroke-width="1.45" stroke-linecap="round" stroke-linejoin="round"/>
<circle cx="447.70" cy="383.50" r="2.75" fill="#c0201a"/>
<circle cx="447.70" cy="333.10" r="2.75" fill="#4a4a4a"/>
<circle cx="378.50" cy="320.30" r="2.75" fill="#4a4a4a"/>
<text class="lb" x="358.0" y="323.8" textLength="17.3" lengthAdjust="spacingAndGlyphs" fill="#4c4c4c" stroke="#4c4c4c">9.7m</text>
<text class="lb" x="451.1" y="336.6" textLength="15.3" lengthAdjust="spacingAndGlyphs" fill="#4c4c4c" stroke="#4c4c4c">9.1m</text>
<text class="lb lr" x="451.1" y="387.0" textLength="17.3" lengthAdjust="spacingAndGlyphs" fill="#c0201a" stroke="#c0201a">6.6m</text>
<text class="pt" x="471.8" y="308.3" textLength="38.9" lengthAdjust="spacingAndGlyphs">Portugal</text>
<line x1="495.3" y1="397.8" x2="564.2" y2="397.8" stroke="#dedede" stroke-width="1"/>
<text class="tk" x="487.0" y="406.6" textLength="16.6" lengthAdjust="spacingAndGlyphs">2022</text>
<text class="tk" x="555.8" y="406.6" textLength="16.6" lengthAdjust="spacingAndGlyphs">2100</text>
<path d="M495.30,319.80C495.50,319.87 496.10,320.06 496.50,320.21C496.90,320.36 497.30,320.52 497.70,320.70C498.10,320.87 498.50,321.06 498.90,321.25C499.30,321.45 499.70,321.66 500.10,321.88C500.50,322.10 500.90,322.33 501.30,322.57C501.70,322.81 501.80,322.84 502.50,323.33C503.20,323.82 504.50,324.71 505.50,325.50C506.50,326.29 507.50,327.14 508.50,328.04C509.50,328.95 510.50,329.92 511.50,330.93C512.50,331.95 513.50,333.03 514.50,334.14C515.50,335.25 516.50,336.43 517.50,337.59C518.50,338.75 519.50,339.94 520.50,341.10C521.50,342.26 522.50,343.39 523.50,344.54C524.50,345.69 525.50,346.81 526.50,348.00C527.50,349.19 528.50,350.39 529.50,351.67C530.50,352.95 531.50,354.32 532.50,355.69C533.50,357.05 534.50,358.49 535.50,359.87C536.50,361.24 537.50,362.65 538.50,363.94C539.50,365.23 540.50,366.48 541.50,367.64C542.50,368.80 543.50,369.86 544.50,370.90C545.50,371.94 546.50,372.90 547.50,373.86C548.50,374.81 549.50,375.73 550.50,376.62C551.50,377.52 552.50,378.39 553.50,379.25C554.50,380.10 555.50,380.94 556.50,381.76C557.50,382.59 558.50,383.40 559.50,384.21C560.50,385.02 561.72,386.00 562.50,386.63C563.28,387.26 563.92,387.77 564.20,388.00" fill="none" stroke="#c0201a" stroke-width="1.45" stroke-linecap="round" stroke-linejoin="round"/>
<path d="M495.30,319.80C495.50,319.84 496.10,319.96 496.50,320.06C496.90,320.15 497.30,320.25 497.70,320.35C498.10,320.45 498.50,320.57 498.90,320.68C499.30,320.80 499.70,320.92 500.10,321.05C500.50,321.17 500.90,321.31 501.30,321.44C501.70,321.58 501.80,321.60 502.50,321.87C503.20,322.14 504.50,322.64 505.50,323.07C506.50,323.49 507.50,323.95 508.50,324.42C509.50,324.90 510.50,325.40 511.50,325.91C512.50,326.42 513.50,326.96 514.50,327.50C515.50,328.04 516.50,328.61 517.50,329.17C518.50,329.74 519.50,330.32 520.50,330.89C521.50,331.47 522.50,332.06 523.50,332.64C524.50,333.23 525.50,333.81 526.50,334.39C527.50,334.97 528.50,335.55 529.50,336.12C530.50,336.68 531.50,337.25 532.50,337.78C533.50,338.31 534.50,338.84 535.50,339.33C536.50,339.81 537.50,340.27 538.50,340.69C539.50,341.10 540.50,341.48 541.50,341.80C542.50,342.12 543.50,342.39 544.50,342.59C545.50,342.79 546.50,342.94 547.50,343.00C548.50,343.07 549.50,343.06 550.50,343.01C551.50,342.95 552.50,342.83 553.50,342.68C554.50,342.54 555.50,342.33 556.50,342.12C557.50,341.91 558.50,341.67 559.50,341.43C560.50,341.19 561.72,340.88 562.50,340.70C563.28,340.51 563.92,340.37 564.20,340.30" fill="none" stroke="#4a4a4a" stroke-width="1.45" stroke-linecap="round" stroke-linejoin="round"/>
<circle cx="564.20" cy="388.00" r="2.75" fill="#c0201a"/>
<circle cx="564.20" cy="340.30" r="2.75" fill="#4a4a4a"/>
<circle cx="495.30" cy="319.80" r="2.75" fill="#4a4a4a"/>
<text class="lb" x="478.1" y="323.3" textLength="14.0" lengthAdjust="spacingAndGlyphs" fill="#4c4c4c" stroke="#4c4c4c">10m</text>
<text class="lb" x="567.6" y="343.8" textLength="17.3" lengthAdjust="spacingAndGlyphs" fill="#4c4c4c" stroke="#4c4c4c">9.0m</text>
<text class="lb lr" x="567.6" y="391.5" textLength="17.3" lengthAdjust="spacingAndGlyphs" fill="#c0201a" stroke="#c0201a">5.7m</text>
<text class="pt" x="5.4" y="421.3" textLength="30.9" lengthAdjust="spacingAndGlyphs">Greece</text>
<line x1="29.3" y1="510.8" x2="98.2" y2="510.8" stroke="#dedede" stroke-width="1"/>
<text class="tk" x="21.0" y="519.6" textLength="16.6" lengthAdjust="spacingAndGlyphs">2022</text>
<text class="tk" x="89.8" y="519.6" textLength="16.6" lengthAdjust="spacingAndGlyphs">2100</text>
<path d="M29.30,432.50C29.50,432.67 30.10,433.16 30.50,433.49C30.90,433.82 31.30,434.15 31.70,434.48C32.10,434.81 32.50,435.13 32.90,435.46C33.30,435.79 33.70,436.12 34.10,436.45C34.50,436.78 34.60,436.85 35.30,437.43C36.00,438.01 37.30,439.08 38.30,439.92C39.30,440.76 40.30,441.61 41.30,442.47C42.30,443.33 43.30,444.21 44.30,445.11C45.30,446.01 46.30,446.93 47.30,447.88C48.30,448.82 49.30,449.79 50.30,450.80C51.30,451.80 52.30,452.84 53.30,453.91C54.30,454.99 55.30,456.10 56.30,457.25C57.30,458.41 58.30,459.60 59.30,460.85C60.30,462.10 61.30,463.39 62.30,464.74C63.30,466.08 64.30,467.51 65.30,468.93C66.30,470.34 67.30,471.82 68.30,473.21C69.30,474.59 70.30,475.97 71.30,477.24C72.30,478.52 73.30,479.71 74.30,480.85C75.30,481.99 76.30,483.04 77.30,484.08C78.30,485.12 79.30,486.10 80.30,487.08C81.30,488.07 82.30,489.04 83.30,490.00C84.30,490.96 85.30,491.92 86.30,492.83C87.30,493.75 88.30,494.65 89.30,495.50C90.30,496.35 91.30,497.17 92.30,497.92C93.30,498.68 94.32,499.40 95.30,500.03C96.28,500.66 97.72,501.42 98.20,501.70" fill="none" stroke="#c0201a" stroke-width="1.45" stroke-linecap="round" stroke-linejoin="round"/>
<path d="M29.30,432.50C29.50,432.67 30.10,433.18 30.50,433.53C30.90,433.87 31.30,434.21 31.70,434.56C32.10,434.90 32.50,435.25 32.90,435.59C33.30,435.94 33.70,436.28 34.10,436.63C34.50,436.98 34.60,437.06 35.30,437.67C36.00,438.28 37.30,439.42 38.30,440.30C39.30,441.18 40.30,442.07 41.30,442.96C42.30,443.85 43.30,444.75 44.30,445.66C45.30,446.57 46.30,447.48 47.30,448.40C48.30,449.32 49.30,450.25 50.30,451.19C51.30,452.13 52.30,453.08 53.30,454.03C54.30,454.99 55.30,455.96 56.30,456.93C57.30,457.91 58.30,458.89 59.30,459.89C60.30,460.89 61.30,461.90 62.30,462.92C63.30,463.94 64.30,464.98 65.30,466.02C66.30,467.05 67.30,468.11 68.30,469.10C69.30,470.09 70.30,471.08 71.30,471.95C72.30,472.83 73.30,473.65 74.30,474.34C75.30,475.03 76.30,475.60 77.30,476.10C78.30,476.59 79.30,476.97 80.30,477.30C81.30,477.63 82.30,477.86 83.30,478.05C84.30,478.25 85.30,478.36 86.30,478.47C87.30,478.58 88.30,478.63 89.30,478.69C90.30,478.75 91.30,478.77 92.30,478.83C93.30,478.89 94.32,478.94 95.30,479.03C96.28,479.13 97.72,479.34 98.20,479.40" fill="none" stroke="#4a4a4a" stroke-width="1.45" stroke-linecap="round" stroke-linejoin="round"/>
<circle cx="98.20" cy="501.70" r="2.75" fill="#c0201a"/>
<circle cx="98.20" cy="479.40" r="2.75" fill="#4a4a4a"/>
<circle cx="29.30" cy="432.50" r="2.75" fill="#4a4a4a"/>
<text class="lb" x="12.1" y="436.0" textLength="14.0" lengthAdjust="spacingAndGlyphs" fill="#4c4c4c" stroke="#4c4c4c">10m</text>
<text class="lb" x="101.6" y="482.9" textLength="17.3" lengthAdjust="spacingAndGlyphs" fill="#4c4c4c" stroke="#4c4c4c">7.3m</text>
<text class="lb lr" x="101.6" y="505.2" textLength="17.3" lengthAdjust="spacingAndGlyphs" fill="#c0201a" stroke="#c0201a">5.8m</text>
<text class="pt" x="122.0" y="421.3" textLength="34.3" lengthAdjust="spacingAndGlyphs">Norway</text>
<line x1="145.5" y1="510.8" x2="214.6" y2="510.8" stroke="#dedede" stroke-width="1"/>
<text class="tk" x="137.2" y="519.6" textLength="16.6" lengthAdjust="spacingAndGlyphs">2022</text>
<text class="tk" x="206.2" y="519.6" textLength="16.6" lengthAdjust="spacingAndGlyphs">2100</text>
<path d="M145.50,464.20C145.70,464.05 146.30,463.55 146.70,463.28C147.10,463.02 147.50,462.79 147.90,462.60C148.30,462.41 148.70,462.25 149.10,462.11C149.50,461.98 149.90,461.88 150.30,461.79C150.70,461.71 151.10,461.65 151.50,461.60C151.90,461.56 152.00,461.51 152.70,461.52C153.40,461.53 154.70,461.58 155.70,461.68C156.70,461.78 157.70,461.95 158.70,462.11C159.70,462.28 160.70,462.46 161.70,462.67C162.70,462.88 163.70,463.12 164.70,463.39C165.70,463.66 166.70,463.96 167.70,464.31C168.70,464.66 169.70,465.05 170.70,465.49C171.70,465.93 172.70,466.42 173.70,466.96C174.70,467.50 175.70,468.09 176.70,468.72C177.70,469.35 178.70,470.03 179.70,470.74C180.70,471.45 181.70,472.21 182.70,472.99C183.70,473.76 184.70,474.58 185.70,475.41C186.70,476.24 187.70,477.11 188.70,477.98C189.70,478.86 190.70,479.76 191.70,480.66C192.70,481.57 193.70,482.49 194.70,483.42C195.70,484.34 196.70,485.28 197.70,486.21C198.70,487.13 199.70,488.07 200.70,488.99C201.70,489.91 202.70,490.84 203.70,491.74C204.70,492.64 205.70,493.54 206.70,494.41C207.70,495.28 208.70,496.14 209.70,496.97C210.70,497.79 211.88,498.73 212.70,499.37C213.52,500.01 214.28,500.56 214.60,500.80" fill="none" stroke="#c0201a" stroke-width="1.45" stroke-linecap="round" stroke-linejoin="round"/>
<path d="M145.50,464.20C145.70,464.02 146.30,463.48 146.70,463.12C147.10,462.76 147.50,462.39 147.90,462.03C148.30,461.67 148.70,461.31 149.10,460.95C149.50,460.59 149.90,460.23 150.30,459.88C150.70,459.52 151.10,459.16 151.50,458.81C151.90,458.46 152.00,458.36 152.70,457.75C153.40,457.15 154.70,456.02 155.70,455.18C156.70,454.34 157.70,453.51 158.70,452.72C159.70,451.92 160.70,451.15 161.70,450.41C162.70,449.67 163.70,448.95 164.70,448.27C165.70,447.59 166.70,446.94 167.70,446.31C168.70,445.68 169.70,445.08 170.70,444.51C171.70,443.94 172.70,443.39 173.70,442.87C174.70,442.35 175.70,441.85 176.70,441.38C177.70,440.91 178.70,440.46 179.70,440.04C180.70,439.61 181.70,439.21 182.70,438.83C183.70,438.45 184.70,438.09 185.70,437.75C186.70,437.42 187.70,437.10 188.70,436.80C189.70,436.50 190.70,436.23 191.70,435.96C192.70,435.70 193.70,435.46 194.70,435.23C195.70,435.00 196.70,434.79 197.70,434.60C198.70,434.40 199.70,434.22 200.70,434.05C201.70,433.88 202.70,433.73 203.70,433.59C204.70,433.44 205.70,433.31 206.70,433.19C207.70,433.07 208.70,432.97 209.70,432.87C210.70,432.77 211.88,432.67 212.70,432.60C213.52,432.53 214.28,432.47 214.60,432.45" fill="none" stroke="#4a4a4a" stroke-width="1.45" stroke-linecap="round" stroke-linejoin="round"/>
<circle cx="214.60" cy="500.80" r="2.75" fill="#c0201a"/>
<circle cx="214.60" cy="432.45" r="2.75" fill="#4a4a4a"/>
<circle cx="145.50" cy="464.20" r="2.75" fill="#4a4a4a"/>
<text class="lb" x="125.0" y="467.7" textLength="17.3" lengthAdjust="spacingAndGlyphs" fill="#4c4c4c" stroke="#4c4c4c">5.4m</text>
<text class="lb" x="218.0" y="435.9" textLength="17.3" lengthAdjust="spacingAndGlyphs" fill="#4c4c4c" stroke="#4c4c4c">6.7m</text>
<text class="lb lr" x="218.0" y="504.3" textLength="17.3" lengthAdjust="spacingAndGlyphs" fill="#c0201a" stroke="#c0201a">3.9m</text>
<text class="pt" x="238.6" y="421.3" textLength="42.3" lengthAdjust="spacingAndGlyphs">Denmark</text>
<line x1="262.3" y1="510.8" x2="331.2" y2="510.8" stroke="#dedede" stroke-width="1"/>
<text class="tk" x="254.0" y="519.6" textLength="16.6" lengthAdjust="spacingAndGlyphs">2022</text>
<text class="tk" x="322.8" y="519.6" textLength="16.6" lengthAdjust="spacingAndGlyphs">2100</text>
<path d="M262.30,446.70C262.50,446.45 263.10,445.63 263.50,445.21C263.90,444.79 264.30,444.45 264.70,444.17C265.10,443.88 265.50,443.66 265.90,443.49C266.30,443.31 266.70,443.19 267.10,443.10C267.50,443.01 267.90,442.96 268.30,442.95C268.70,442.93 268.80,442.86 269.50,443.00C270.20,443.13 271.50,443.43 272.50,443.75C273.50,444.08 274.50,444.52 275.50,444.96C276.50,445.40 277.50,445.88 278.50,446.38C279.50,446.89 280.50,447.43 281.50,448.00C282.50,448.57 283.50,449.17 284.50,449.79C285.50,450.41 286.50,451.06 287.50,451.72C288.50,452.39 289.50,453.08 290.50,453.79C291.50,454.50 292.50,455.23 293.50,455.98C294.50,456.73 295.50,457.50 296.50,458.28C297.50,459.07 298.50,459.87 299.50,460.70C300.50,461.52 301.50,462.36 302.50,463.21C303.50,464.07 304.50,464.94 305.50,465.83C306.50,466.72 307.50,467.62 308.50,468.54C309.50,469.46 310.50,470.39 311.50,471.34C312.50,472.29 313.50,473.25 314.50,474.22C315.50,475.19 316.50,476.18 317.50,477.18C318.50,478.18 319.50,479.19 320.50,480.21C321.50,481.23 322.50,482.26 323.50,483.30C324.50,484.34 325.50,485.39 326.50,486.45C327.50,487.51 328.72,488.82 329.50,489.66C330.28,490.50 330.92,491.19 331.20,491.50" fill="none" stroke="#c0201a" stroke-width="1.45" stroke-linecap="round" stroke-linejoin="round"/>
<path d="M262.30,446.70C262.50,446.43 263.10,445.60 263.50,445.09C263.90,444.58 264.30,444.09 264.70,443.64C265.10,443.18 265.50,442.74 265.90,442.33C266.30,441.92 266.70,441.54 267.10,441.18C267.50,440.81 267.90,440.47 268.30,440.15C268.70,439.83 268.80,439.69 269.50,439.25C270.20,438.81 271.50,437.99 272.50,437.51C273.50,437.03 274.50,436.68 275.50,436.38C276.50,436.09 277.50,435.90 278.50,435.75C279.50,435.60 280.50,435.53 281.50,435.48C282.50,435.43 283.50,435.44 284.50,435.45C285.50,435.46 286.50,435.51 287.50,435.54C288.50,435.56 289.50,435.61 290.50,435.61C291.50,435.62 292.50,435.60 293.50,435.56C294.50,435.52 295.50,435.45 296.50,435.37C297.50,435.29 298.50,435.19 299.50,435.09C300.50,435.00 301.50,434.88 302.50,434.79C303.50,434.69 304.50,434.59 305.50,434.51C306.50,434.43 307.50,434.36 308.50,434.32C309.50,434.28 310.50,434.25 311.50,434.27C312.50,434.29 313.50,434.33 314.50,434.42C315.50,434.51 316.50,434.65 317.50,434.79C318.50,434.94 319.50,435.13 320.50,435.30C321.50,435.47 322.50,435.67 323.50,435.83C324.50,436.00 325.50,436.17 326.50,436.29C327.50,436.41 328.72,436.51 329.50,436.56C330.28,436.62 330.92,436.59 331.20,436.60" fill="none" stroke="#4a4a4a" stroke-width="1.45" stroke-linecap="round" stroke-linejoin="round"/>
<circle cx="331.20" cy="491.50" r="2.75" fill="#c0201a"/>
<circle cx="331.20" cy="436.60" r="2.75" fill="#4a4a4a"/>
<circle cx="262.30" cy="446.70" r="2.75" fill="#4a4a4a"/>
<text class="lb" x="241.8" y="450.2" textLength="17.3" lengthAdjust="spacingAndGlyphs" fill="#4c4c4c" stroke="#4c4c4c">5.9m</text>
<text class="lb" x="334.6" y="440.1" textLength="15.3" lengthAdjust="spacingAndGlyphs" fill="#4c4c4c" stroke="#4c4c4c">6.1m</text>
<text class="lb lr" x="334.6" y="495.0" textLength="17.3" lengthAdjust="spacingAndGlyphs" fill="#c0201a" stroke="#c0201a">4.7m</text>
<text class="pt" x="355.2" y="421.3" textLength="32.7" lengthAdjust="spacingAndGlyphs">Ireland</text>
<line x1="378.5" y1="510.8" x2="447.6" y2="510.8" stroke="#dedede" stroke-width="1"/>
<text class="tk" x="370.2" y="519.6" textLength="16.6" lengthAdjust="spacingAndGlyphs">2022</text>
<text class="tk" x="439.2" y="519.6" textLength="16.6" lengthAdjust="spacingAndGlyphs">2100</text>
<path d="M378.50,471.30C378.70,471.02 379.30,470.12 379.70,469.60C380.10,469.07 380.50,468.59 380.90,468.13C381.30,467.68 381.70,467.26 382.10,466.87C382.50,466.48 382.90,466.12 383.30,465.77C383.70,465.43 384.10,465.11 384.50,464.80C384.90,464.50 385.00,464.38 385.70,463.95C386.40,463.52 387.70,462.72 388.70,462.22C389.70,461.72 390.70,461.31 391.70,460.93C392.70,460.56 393.70,460.24 394.70,459.98C395.70,459.73 396.70,459.53 397.70,459.40C398.70,459.28 399.70,459.22 400.70,459.24C401.70,459.25 402.70,459.34 403.70,459.52C404.70,459.70 405.70,459.96 406.70,460.29C407.70,460.63 408.70,461.06 409.70,461.54C410.70,462.03 411.70,462.59 412.70,463.21C413.70,463.83 414.70,464.51 415.70,465.24C416.70,465.97 417.70,466.75 418.70,467.57C419.70,468.39 420.70,469.26 421.70,470.15C422.70,471.04 423.70,471.97 424.70,472.92C425.70,473.86 426.70,474.83 427.70,475.81C428.70,476.79 429.70,477.78 430.70,478.77C431.70,479.76 432.70,480.77 433.70,481.75C434.70,482.73 435.70,483.72 436.70,484.68C437.70,485.64 438.70,486.59 439.70,487.51C440.70,488.42 441.70,489.32 442.70,490.17C443.70,491.03 444.87,491.97 445.70,492.62C446.53,493.27 447.37,493.85 447.70,494.10" fill="none" stroke="#c0201a" stroke-width="1.45" stroke-linecap="round" stroke-linejoin="round"/>
<path d="M378.50,471.30C378.70,470.64 379.30,468.45 379.70,467.33C380.10,466.21 380.50,465.36 380.90,464.57C381.30,463.78 381.70,463.20 382.10,462.59C382.50,461.98 382.90,461.49 383.30,460.94C383.70,460.38 384.10,459.83 384.50,459.27C384.90,458.71 385.00,458.57 385.70,457.56C386.40,456.54 387.70,454.64 388.70,453.19C389.70,451.75 390.70,450.29 391.70,448.90C392.70,447.50 393.70,446.11 394.70,444.82C395.70,443.53 396.70,442.26 397.70,441.14C398.70,440.03 399.70,438.98 400.70,438.12C401.70,437.26 402.70,436.56 403.70,435.98C404.70,435.41 405.70,435.00 406.70,434.67C407.70,434.34 408.70,434.15 409.70,434.01C410.70,433.87 411.70,433.84 412.70,433.82C413.70,433.81 414.70,433.88 415.70,433.94C416.70,434.01 417.70,434.12 418.70,434.20C419.70,434.28 420.70,434.36 421.70,434.42C422.70,434.49 423.70,434.52 424.70,434.59C425.70,434.65 426.70,434.71 427.70,434.81C428.70,434.91 429.70,435.02 430.70,435.20C431.70,435.37 432.70,435.59 433.70,435.85C434.70,436.11 435.70,436.42 436.70,436.76C437.70,437.10 438.70,437.48 439.70,437.88C440.70,438.28 441.70,438.72 442.70,439.17C443.70,439.62 444.88,440.18 445.70,440.57C446.52,440.96 447.28,441.35 447.60,441.50" fill="none" stroke="#4a4a4a" stroke-width="1.45" stroke-linecap="round" stroke-linejoin="round"/>
<circle cx="447.70" cy="494.10" r="2.75" fill="#c0201a"/>
<circle cx="447.60" cy="441.50" r="2.75" fill="#4a4a4a"/>
<circle cx="378.50" cy="471.30" r="2.75" fill="#4a4a4a"/>
<text class="lb" x="360.0" y="474.8" textLength="15.3" lengthAdjust="spacingAndGlyphs" fill="#4c4c4c" stroke="#4c4c4c">5.1m</text>
<text class="lb" x="451.0" y="445.0" textLength="17.3" lengthAdjust="spacingAndGlyphs" fill="#4c4c4c" stroke="#4c4c4c">5.9m</text>
<text class="lb lr" x="451.1" y="497.6" textLength="17.3" lengthAdjust="spacingAndGlyphs" fill="#c0201a" stroke="#c0201a">4.4m</text>
<text class="pt" x="471.8" y="421.3" textLength="38.4" lengthAdjust="spacingAndGlyphs">Bulgaria</text>
<line x1="495.3" y1="510.8" x2="564.2" y2="510.8" stroke="#dedede" stroke-width="1"/>
<text class="tk" x="487.0" y="519.6" textLength="16.6" lengthAdjust="spacingAndGlyphs">2022</text>
<text class="tk" x="555.8" y="519.6" textLength="16.6" lengthAdjust="spacingAndGlyphs">2100</text>
<path d="M495.30,435.00L496.60,433.40C496.80,433.61 497.40,434.21 497.80,434.67C498.20,435.12 498.60,435.62 499.00,436.14C499.40,436.66 499.80,437.22 500.20,437.78C500.60,438.35 501.00,438.94 501.40,439.54C501.80,440.14 502.20,440.76 502.60,441.37C503.00,441.99 503.10,442.18 503.80,443.22C504.50,444.27 505.80,446.29 506.80,447.66C507.80,449.03 508.80,450.27 509.80,451.45C510.80,452.64 511.80,453.70 512.80,454.77C513.80,455.84 514.80,456.85 515.80,457.87C516.80,458.89 517.80,459.89 518.80,460.89C519.80,461.89 520.80,462.88 521.80,463.88C522.80,464.88 523.80,465.87 524.80,466.88C525.80,467.89 526.80,468.90 527.80,469.94C528.80,470.97 529.80,472.03 530.80,473.09C531.80,474.16 532.80,475.25 533.80,476.32C534.80,477.40 535.80,478.49 536.80,479.55C537.80,480.62 538.80,481.68 539.80,482.70C540.80,483.73 541.80,484.74 542.80,485.70C543.80,486.66 544.80,487.59 545.80,488.46C546.80,489.33 547.80,490.16 548.80,490.92C549.80,491.69 550.80,492.39 551.80,493.06C552.80,493.72 553.80,494.34 554.80,494.91C555.80,495.49 556.80,496.02 557.80,496.52C558.80,497.02 559.73,497.46 560.80,497.92C561.87,498.38 563.63,499.07 564.20,499.30" fill="none" stroke="#c0201a" stroke-width="1.45" stroke-linecap="round" stroke-linejoin="round"/>
<path d="M495.30,435.00L496.60,433.40C496.80,433.60 497.40,434.17 497.80,434.61C498.20,435.06 498.60,435.56 499.00,436.08C499.40,436.61 499.80,437.17 500.20,437.74C500.60,438.31 501.00,438.92 501.40,439.52C501.80,440.11 502.20,440.73 502.60,441.33C503.00,441.93 503.10,442.14 503.80,443.12C504.50,444.10 505.80,445.98 506.80,447.22C507.80,448.46 508.80,449.53 509.80,450.56C510.80,451.60 511.80,452.49 512.80,453.42C513.80,454.35 514.80,455.25 515.80,456.15C516.80,457.06 517.80,457.96 518.80,458.85C519.80,459.75 520.80,460.63 521.80,461.50C522.80,462.37 523.80,463.23 524.80,464.06C525.80,464.90 526.80,465.71 527.80,466.50C528.80,467.29 529.80,468.06 530.80,468.79C531.80,469.52 532.80,470.23 533.80,470.90C534.80,471.58 535.80,472.22 536.80,472.83C537.80,473.43 538.80,474.01 539.80,474.55C540.80,475.09 541.80,475.60 542.80,476.06C543.80,476.53 544.80,476.96 545.80,477.35C546.80,477.74 547.80,478.09 548.80,478.40C549.80,478.71 550.80,478.97 551.80,479.20C552.80,479.42 553.80,479.60 554.80,479.74C555.80,479.87 556.80,479.96 557.80,480.00C558.80,480.04 559.73,480.05 560.80,479.98C561.87,479.92 563.63,479.66 564.20,479.60" fill="none" stroke="#4a4a4a" stroke-width="1.45" stroke-linecap="round" stroke-linejoin="round"/>
<circle cx="564.20" cy="499.30" r="2.75" fill="#c0201a"/>
<circle cx="564.20" cy="479.60" r="2.75" fill="#4a4a4a"/>
<circle cx="495.30" cy="435.00" r="2.75" fill="#4a4a4a"/>
<text class="lb" x="474.8" y="438.5" textLength="17.3" lengthAdjust="spacingAndGlyphs" fill="#4c4c4c" stroke="#4c4c4c">6.8m</text>
<text class="lb" x="567.6" y="483.1" textLength="15.3" lengthAdjust="spacingAndGlyphs" fill="#4c4c4c" stroke="#4c4c4c">5.1m</text>
<text class="lb lr" x="567.6" y="502.8" textLength="17.3" lengthAdjust="spacingAndGlyphs" fill="#c0201a" stroke="#c0201a">4.3m</text>
</svg>
</body></html>
